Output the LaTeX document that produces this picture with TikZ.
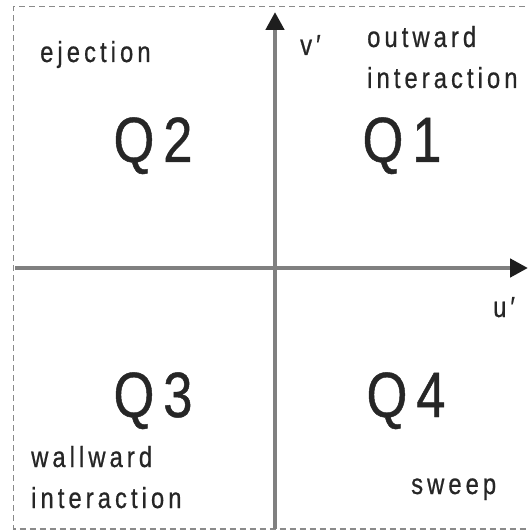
\documentclass[tikz,border=0pt]{standalone}
\usepackage{fontspec}
\usetikzlibrary{arrows.meta}
\newfontfamily\labfont[FakeStretch=0.82,LetterSpace=14,FakeBold=0.7]{Liberation Sans}
\definecolor{txt}{HTML}{262626}
\definecolor{axisgray}{HTML}{808080}
\definecolor{tipcol}{HTML}{1E1E1E}
\definecolor{bordergray}{HTML}{8A8A8A}
\tikzset{
  small/.style={inner sep=0pt,anchor=base west,text=txt,font=\labfont\fontsize{29bp}{29bp}\selectfont},
  quad/.style={inner sep=0pt,anchor=base,text=txt,font=\labfont\fontsize{64bp}{64bp}\selectfont},
  axisline/.style={draw=axisgray,line width=4.5bp,-{Triangle[length=18bp,width=18bp,color=tipcol]}},
  frame/.style={draw=bordergray,line width=1.6bp,dash pattern=on 6bp off 4bp}
}
\begin{document}
\begin{tikzpicture}[x=1bp,y=-1bp]
\useasboundingbox (0,0) rectangle (528,532);
% frame (top, left, bottom)
\coordinate (ftr) at (535,6.5);
\coordinate (ftl) at (13.5,6.5);
\coordinate (fbl) at (13.5,529);
\coordinate (fbr) at (535,529);
\draw[frame] (ftr) -- (ftl) -- (fbl) -- (fbr);
% axes
\coordinate (xs) at (15,268);
\coordinate (xe) at (528,268);
\coordinate (ys) at (275,529);
\coordinate (ye) at (275,12);
\draw[axisline] (xs) -- (xe);
\draw[axisline] (ys) -- (ye);
% labels
\node[small] (ej) at (40,62) {ejection};
\node[small] (ow) at (367,47) {outward};
\node[small] (oi) at (367,88) {interaction};
\node[small] (vp) at (300,55) {v′};
\node[small] (up) at (493,317) {u′};
\node[small] (ww) at (31,467) {wallward};
\node[small] (wi) at (31,508) {interaction};
\node[small] (sw) at (411,494) {sweep};
\node[quad] (q2) at (153,162) {Q2};
\node[quad] (q1) at (402,162) {Q1};
\node[quad] (q3) at (153,417) {Q3};
\node[quad] (q4) at (406,417) {Q4};
\end{tikzpicture}
\end{document}
